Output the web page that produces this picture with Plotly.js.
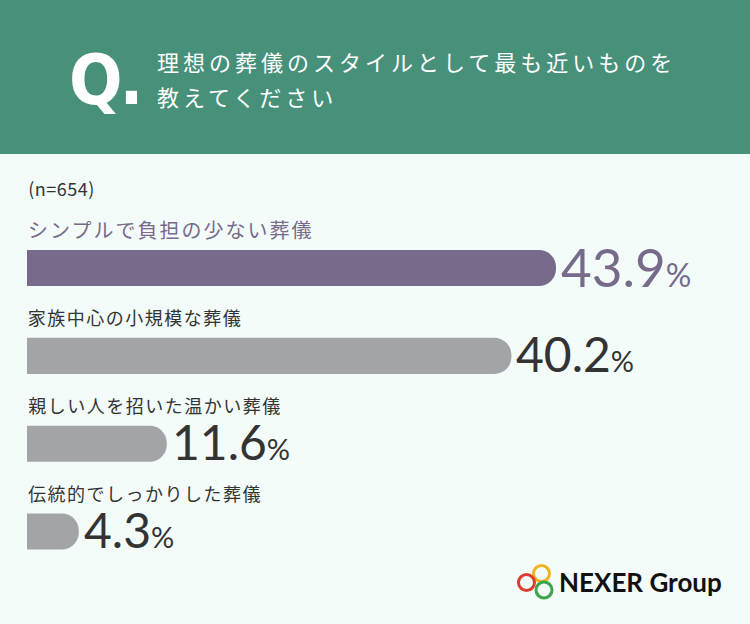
<!DOCTYPE html>
<html>
<head>
<meta charset="utf-8">
<script src="https://cdn.plot.ly/plotly-3.0.1.min.js"></script>
<style>
html, body { margin: 0; padding: 0; background: #f3fcf9; }
#chart { width: 750px; height: 624px; }
</style>
<style id="spacing"></style>
</head>
<body>
<div id="chart"></div>
<script>
// ---- data ----
var categories = [
  "シンプルで負担の少ない葬儀",
  "家族中心の小規模な葬儀",
  "親しい人を招いた温かい葬儀",
  "伝統的でしっかりした葬儀"
];
var values = [43.9, 40.2, 11.6, 4.3];
var titleLines = ["理想の葬儀のスタイルとして最も近いものを", "教えてください"];
var sampleNote = "(n=654)";
var brandName = "NEXER Group";

// ---- styles ----
var W = 750, H = 624;
function px(x) { return x / W; }
function py(y) { return 1 - y / H; }

var purple = "#776a8a";
var gray = "#a3a4a8";
var dark = "#333333";
var jp = "'Noto Sans CJK JP', 'Noto Sans', sans-serif";
var num = "Lato, 'Open Sans', sans-serif";

var barColors = values.map(function (v, i) { return i === 0 ? purple : gray; });

var annotations = [];
var spacingRules = [];
// letter-spacing is applied by CSS after Plotly measured the text, which centres it;
// shift right by half of the added width so the left edge stays put.
function addAnn(a, spacing) {
  if (spacing) {
    var n = a.text.replace(/<[^>]*>/g, "").length;
    a.xshift = (a.xshift || 0) + n * spacing / 2;
  }
  annotations.push(a);
  if (spacing) spacingRules.push('.annotation[data-index="' + (annotations.length - 1) + '"] text { letter-spacing: ' + spacing + 'px; }');
}

// header
addAnn({ xref: "paper", yref: "paper", x: px(67), y: py(80), xanchor: "left", yanchor: "middle",
  text: "<b>Q.</b>", showarrow: false,
  font: { family: "'Liberation Sans Narrow', 'DejaVu Sans Condensed', 'Arial Narrow', sans-serif", size: 70, color: "#ffffff" } }, -3);
titleLines.forEach(function (t, i) {
  addAnn({ xref: "paper", yref: "paper", x: px(155), y: py(i === 0 ? 61 : 96), xanchor: "left", yanchor: "middle",
    text: t, showarrow: false, font: { family: jp, size: 22, color: "#ffffff" } }, 4);
});

// sample note
addAnn({ xref: "paper", yref: "paper", x: px(26), y: py(188), xanchor: "left", yanchor: "middle",
  text: sampleNote, showarrow: false, font: { family: jp, size: 18, color: dark } }, 0.5);

// category labels and values
categories.forEach(function (c, i) {
  addAnn({ xref: "x", yref: "y", x: 0, y: c, xanchor: "left", yanchor: "middle", yshift: 39, xshift: -1,
    text: c, showarrow: false,
    font: { family: jp, size: i === 0 ? 20 : 18, color: i === 0 ? purple : dark } }, i === 0 ? 2 : 1.5);
  var big = i === 0 ? 53 : 48;
  var small = i === 0 ? 32 : 29;
  addAnn({ xref: "x", yref: "y", x: values[i], y: c, xanchor: "left", yanchor: "middle", xshift: 3, yshift: 2,
    text: values[i].toFixed(1) + '<span style="font-size:' + small + 'px">%</span>', showarrow: false,
    font: { family: num, size: big, color: i === 0 ? purple : dark } }, 0);
});

// brand
addAnn({ xref: "paper", yref: "paper", x: px(557), y: py(582), xanchor: "left", yanchor: "middle",
  text: "<b>" + brandName + "</b>", showarrow: false, font: { family: num, size: 26, color: "#111111" } }, 0);

function ring(cx, cy, r, color) {
  return { type: "circle", xref: "paper", yref: "paper",
    x0: px(cx - r), x1: px(cx + r), y0: py(cy + r), y1: py(cy - r),
    line: { color: color, width: 3 }, fillcolor: "rgba(0,0,0,0)", layer: "above" };
}

var shapes = [
  { type: "rect", xref: "paper", yref: "paper", x0: 0, x1: 1, y0: py(154), y1: 1,
    fillcolor: "#47907a", line: { width: 0 }, layer: "below" },
  ring(541.5, 573.5, 8, "#f0b31e"),
  ring(526.5, 582.5, 8, "#e03a2f"),
  ring(544, 590, 8, "#3aa54a")
];

document.getElementById("spacing").textContent = spacingRules.join("\n");

var trace = {
  type: "bar",
  orientation: "h",
  y: categories,
  x: values,
  marker: { color: barColors, cornerradius: 17, line: { width: 0 } },
  hoverinfo: "none",
  cliponaxis: false
};

var layout = {
  width: W, height: H,
  margin: { l: 0, r: 0, t: 0, b: 0, pad: 0 },
  paper_bgcolor: "#f3fcf9",
  plot_bgcolor: "rgba(0,0,0,0)",
  showlegend: false,
  bargap: 0.59,
  xaxis: { domain: [27 / W, 1], range: [0, 60], visible: false, fixedrange: true },
  yaxis: { domain: [1 - 575.5 / H, 1 - 224.1 / H], type: "category", categoryorder: "array",
    categoryarray: categories, range: [3.5, -0.5], visible: false, fixedrange: true },
  shapes: shapes,
  annotations: annotations
};

Plotly.newPlot("chart", [trace], layout, { displayModeBar: false, staticPlot: true });
</script>
</body>
</html>
